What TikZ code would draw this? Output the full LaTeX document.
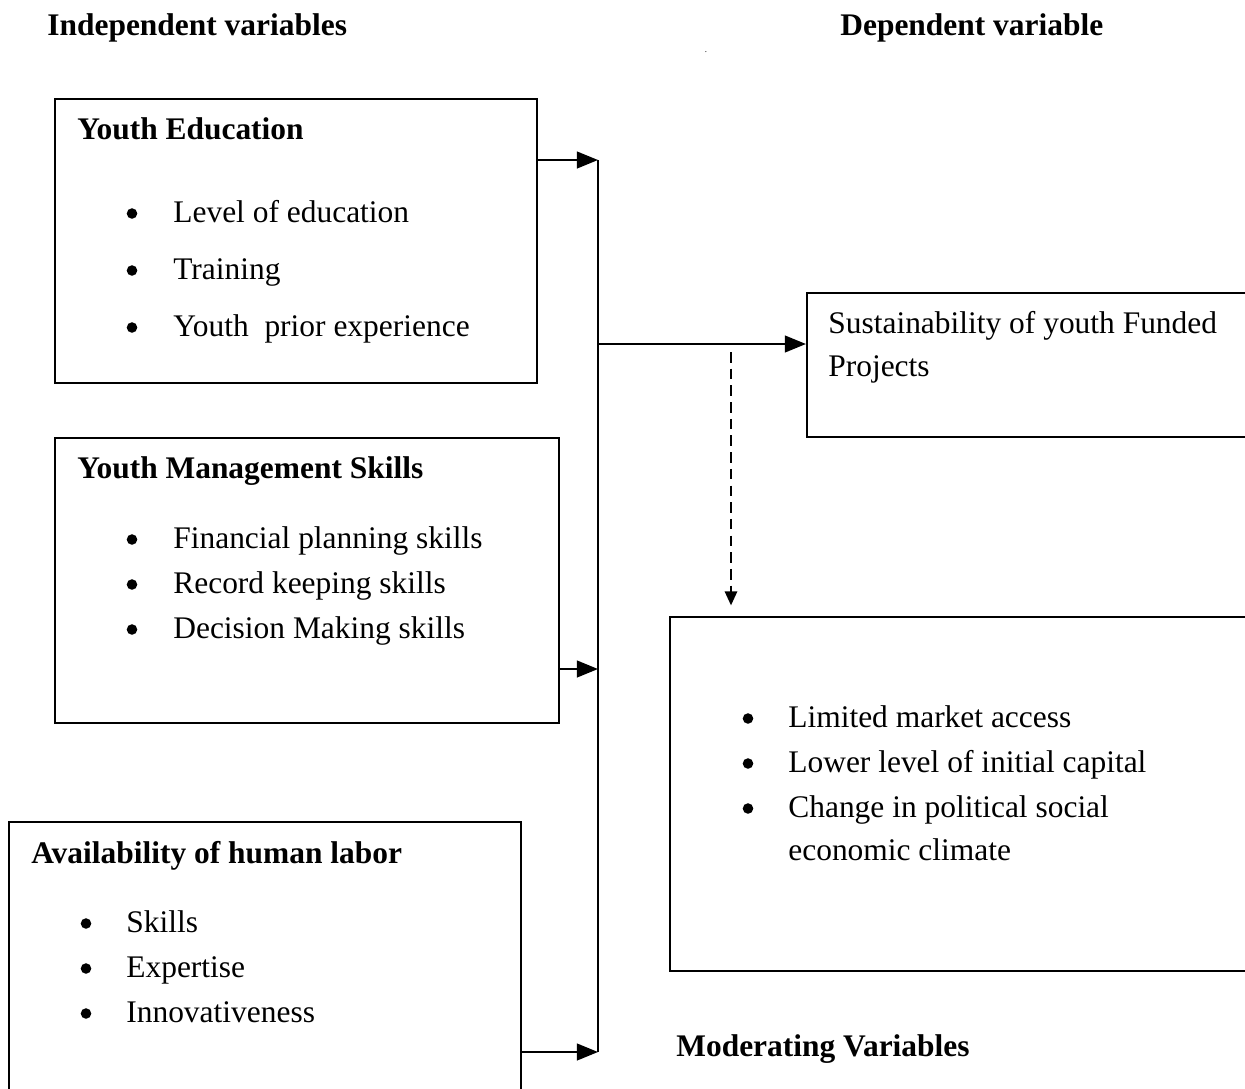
\documentclass[tikz,border=0pt]{standalone}
\usepackage{fontspec}
\setmainfont{Liberation Serif}
\usetikzlibrary{positioning,fit,arrows.meta}

\tikzset{
  varbox/.style={draw, line width=1.2pt, inner sep=0pt, fit={#1}},
  head/.style={anchor=base west, inner sep=0pt, font=\bfseries},
  item/.style={anchor=base west, inner sep=0pt},
  dot/.style={circle, fill, inner sep=0pt, minimum size=6pt, yshift=0.17cm},
  link/.style={line width=1.2pt, -{Triangle[length=12pt,width=9.5pt]}},
  dashlink/.style={line width=1.2pt, dash pattern=on 6pt off 3.5pt,
    -{Triangle[length=8pt,width=7pt]}}
}

\begin{document}
\fontsize{17.9pt}{25pt}\selectfont
\begin{tikzpicture}[x=0.02cm, y=-0.02cm]
  \useasboundingbox (0,0) rectangle (1245,1089);
  \clip (0,0) rectangle (1245,1089);

  % column headings
  \node[head] (indep) at (47,35) {Independent variables};
  \node[head] (dep) at (840,35) {Dependent variable};
  \node[inner sep=0pt, font=\tiny] (speck) at (706,52) {.};

  % independent variables
  \node[varbox={(55,99) (537,383)}] (edu) {};
  \node[head] (edut) at (77,139) {Youth Education};
  \foreach \t [count=\i] in {Level of education, Training, {Youth\ \ prior experience}} {
    \node[dot] (edub\i) at ({132}, {222+57*(\i-1)}) {};
    \node[item] (edu\i) at ({173}, {222+57*(\i-1)}) {\t};
  }

  \node[varbox={(55,438) (559,723)}] (mgt) {};
  \node[head] (mgtt) at (77,478) {Youth Management Skills};
  \foreach \t [count=\i] in {Financial planning skills, Record keeping skills, Decision Making skills} {
    \node[dot] (mgtb\i) at ({132}, {548+45*(\i-1)}) {};
    \node[item] (mgt\i) at ({173}, {548+45*(\i-1)}) {\t};
  }

  \node[varbox={(9,822) (521,1095)}] (lab) {};
  \node[head] (labt) at (31,863) {Availability of human labor};
  \foreach \t [count=\i] in {Skills, Expertise, Innovativeness} {
    \node[dot] (labb\i) at ({86}, {932+45*(\i-1)}) {};
    \node[item] (lab\i) at ({126}, {932+45*(\i-1)}) {\t};
  }

  % dependent variable
  \node[varbox={(807,293) (1252,437)}] (sus) {};
  \node[item] (sus1) at (828,333) {Sustainability of youth Funded};
  \node[item] (sus2) at (828,376) {Projects};

  % moderating variables
  \node[varbox={(670,617) (1252,971)}] (mod) {};
  \foreach \t [count=\i] in {Limited market access, Lower level of initial capital, Change in political social} {
    \node[dot] (modb\i) at ({748}, {727+45*(\i-1)}) {};
    \node[item] (mod\i) at ({788}, {727+45*(\i-1)}) {\t};
  }
  \node[item] (mod4) at (788,860) {economic climate};
  \node[head] (modt) at (676,1056) {Moderating Variables};

  % collecting line and arrows
  \coordinate (jtop) at (598,160);
  \coordinate (jmid) at (598,344);
  \coordinate (jlab) at (598,669);
  \coordinate (jbot) at (598,1052);
  \coordinate (dtop) at (731,352);
  \draw[line width=1.2pt] (jtop) -- (jbot);
  \draw[link] (edu.east |- jtop) -- (jtop);
  \draw[link] (mgt.east |- jlab) -- (jlab);
  \draw[link] (lab.east |- jbot) -- (jbot);
  \draw[link] (jmid) -- (sus.west |- jmid);
  \draw[dashlink, shorten >=6pt] (dtop) -- (mod.north -| dtop);
\end{tikzpicture}
\end{document}
